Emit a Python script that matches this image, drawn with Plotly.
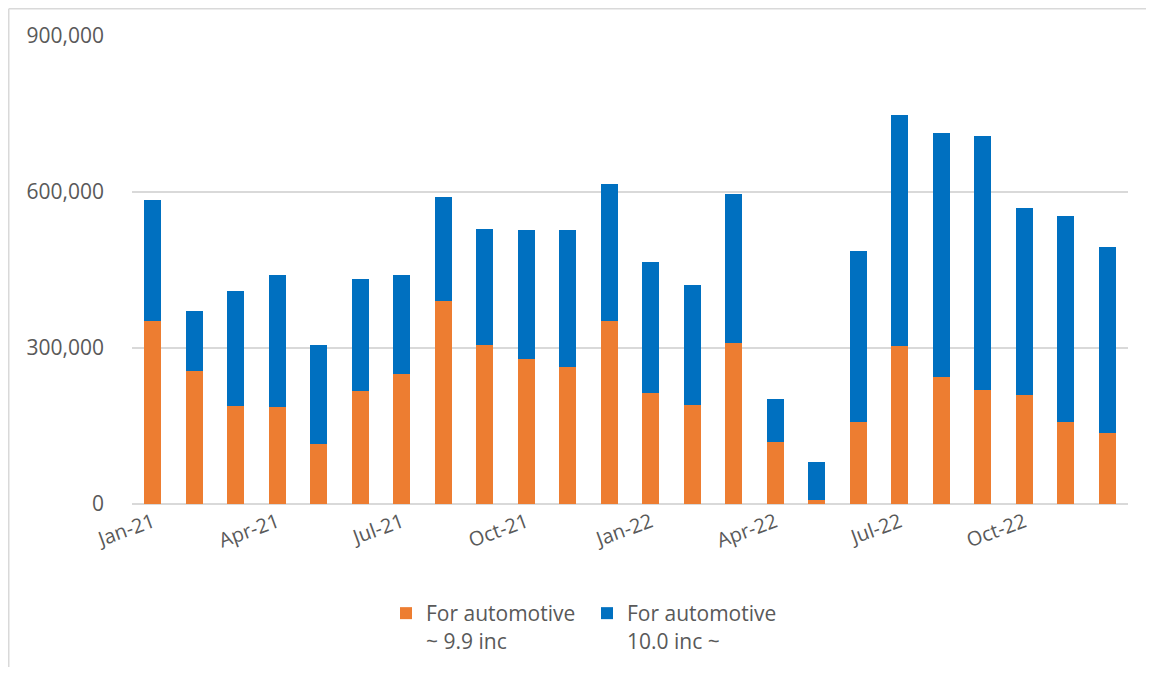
import plotly.graph_objects as go

months = ["Jan-21", "Feb-21", "Mar-21", "Apr-21", "May-21", "Jun-21", "Jul-21", "Aug-21",
          "Sep-21", "Oct-21", "Nov-21", "Dec-21", "Jan-22", "Feb-22", "Mar-22", "Apr-22",
          "May-22", "Jun-22", "Jul-22", "Aug-22", "Sep-22", "Oct-22", "Nov-22", "Dec-22"]

small_inc = [352000, 255000, 189000, 187000, 116000, 217000, 250000, 390000,
             305000, 278000, 263000, 352000, 213000, 190000, 309000, 119000,
             8500, 157000, 304000, 245000, 219000, 210000, 157000, 136000]

totals = [585000, 371000, 409000, 441000, 306000, 432000, 440000, 590000,
          528000, 527000, 527000, 615000, 466000, 422000, 597000, 202000,
          80000, 487000, 748000, 713000, 707000, 570000, 554000, 495000]

large_inc = [t - s for t, s in zip(totals, small_inc)]

tick_labels = ["Jan-21", "Apr-21", "Jul-21", "Oct-21", "Jan-22", "Apr-22", "Jul-22", "Oct-22"]

FONT = "Open Sans, sans-serif"
TXT = "#595959"
W, H = 1138, 659
L, R, T, B = 124, 18, 28, 163
PW, PH = W - L - R, H - T - B

fig = go.Figure()
fig.add_trace(go.Bar(x=months, y=small_inc, name="For automotive<br>~ 9.9 inc",
                     marker=dict(color="#ED7D31", line=dict(width=0))))
fig.add_trace(go.Bar(x=months, y=large_inc, name="For automotive<br>10.0 inc ~",
                     marker=dict(color="#0070C0", line=dict(width=0))))

fig.update_layout(
    barmode="stack",
    bargap=0.6,
    width=W, height=H,
    margin=dict(l=L, r=R, t=T, b=B, autoexpand=False),
    plot_bgcolor="white", paper_bgcolor="white",
    font=dict(family=FONT, size=20, color=TXT),
    legend=dict(orientation="h", xref="container", yref="container",
                x=378 / W, xanchor="left", y=1 - 585 / H, yanchor="top",
                valign="top", font=dict(size=21, color=TXT),
                traceorder="normal", entrywidth=156, itemwidth=30),
    xaxis=dict(type="category", tickmode="array", tickvals=tick_labels, ticktext=tick_labels,
               tickangle=-20, showgrid=False, showline=False, ticks="",
               ticklabelstandoff=2, tickfont=dict(size=20, color=TXT)),
    yaxis=dict(range=[0, 900000], dtick=300000, tickformat=",", showgrid=True,
               gridcolor="#D9D9D9", gridwidth=1.5, zeroline=True, zerolinecolor="#D9D9D9",
               zerolinewidth=1.5, showline=False, ticks="", ticklabelstandoff=27,
               tickfont=dict(size=21, color=TXT)),
    shapes=[
        dict(type="line", xref="paper", yref="paper",
             x0=-(L - 0.75) / PW, x1=-(L - 0.75) / PW,
             y0=-B / PH, y1=1 + (T - 0.75) / PH,
             line=dict(color="#D9D9D9", width=1.5), layer="below"),
        dict(type="line", xref="paper", yref="paper",
             x0=-(L - 0.75) / PW, x1=1 + R / PW,
             y0=1 + (T - 0.75) / PH, y1=1 + (T - 0.75) / PH,
             line=dict(color="#D9D9D9", width=1.5), layer="below"),
    ],
)

fig.write_html("out.html")
